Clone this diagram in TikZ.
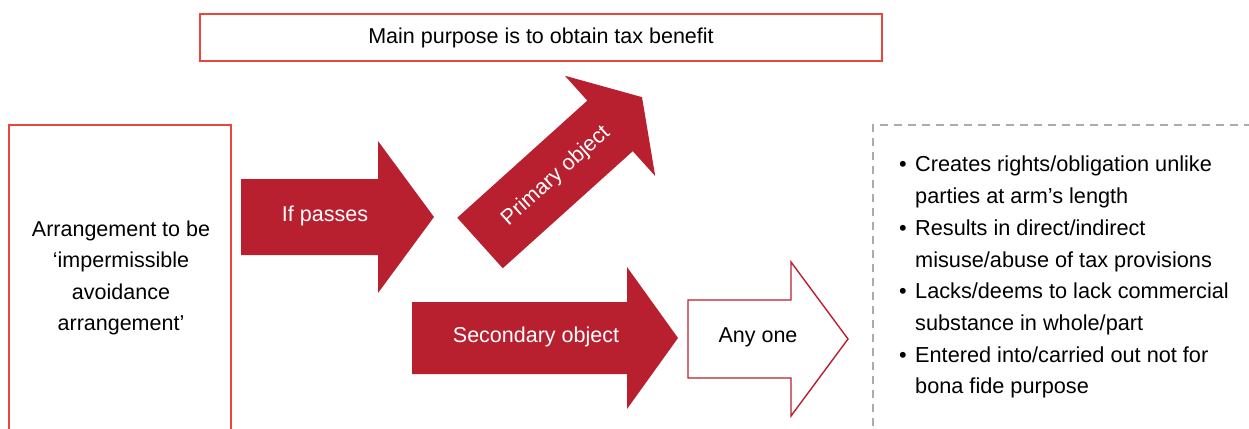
\documentclass[tikz,border=0pt]{standalone}
\usepackage{fontspec}
\setmainfont{Liberation Sans}
\usetikzlibrary{positioning}

\definecolor{arrowred}{RGB}{184,32,47}
\definecolor{boxred}{RGB}{234,70,60}
\definecolor{dashgray}{RGB}{175,170,168}

% block arrow: style, tail centre, angle, shaft length, total length, shaft half width, head half width
\newcommand{\blockarrow}[7]{%
  \begin{scope}[shift={#2},rotate=#3]
    \draw[#1] (0,-#6) -- (#4,-#6) -- (#4,-#7) -- (#5,0) -- (#4,#7) -- (#4,#6) -- (0,#6) -- cycle;
  \end{scope}}
\newcommand{\bitem}{\makebox[19pt][l]{\hspace{3pt}\textbullet}}
\newcommand{\bcont}{\hspace*{19pt}}

\begin{document}
\begin{tikzpicture}[x=1pt,y=-1pt,
  redbox/.style={draw=boxred,line width=1.6pt},
  solidarrow/.style={fill=arrowred,draw=none},
  openarrow/.style={draw=arrowred,fill=white,line width=1.4pt,line join=miter},
  dashbox/.style={draw=dashgray,line width=1.4pt,dash pattern=on 8pt off 6pt},
  lbl/.style={font=\fontsize{21.5}{31.5}\selectfont,inner sep=0pt,align=center},
  wlbl/.style={lbl,text=white}]
\clip (0,0) rectangle (1249,428);
\useasboundingbox (0,0) rectangle (1249,428);

% top box
\node[redbox,lbl,minimum width=682pt,minimum height=47pt] (purpose) at (541,37.5)
  {Main purpose is to obtain tax benefit};

% left box, open at the bottom
\draw[redbox] (9,440) |- (231,125) -- (231,440);
\node[lbl] (arrangement) at (121,278)
  {Arrangement to be\\‘impermissible\\avoidance\\arrangement’};

% arrows
\blockarrow{solidarrow}{(241,217)}{0}{137}{193}{38}{76}
\node[wlbl] (passes) at (325,216) {If passes};

\blockarrow{solidarrow}{(480,243)}{42}{175}{218}{34}{67.5}
\node[wlbl,rotate=42] (primary) at (556,176) {Primary object};

\blockarrow{solidarrow}{(412,338)}{0}{215}{266}{36}{71}
\node[wlbl] (secondary) at (536,337) {Secondary object};

\blockarrow{openarrow}{(688,339)}{0}{103}{160}{39}{77}
\node[lbl] (anyone) at (758,337) {Any one};

% conditions
\draw[dashbox] (873,440) |- (1260,125);
\node[lbl,align=left,anchor=north west,font=\fontsize{21.7}{31.7}\selectfont] (tests) at (896,156)
  {\bitem Creates rights/obligation unlike\\
   \bcont parties at arm’s length\\
   \bitem Results in direct/indirect\\
   \bcont misuse/abuse of tax provisions\\
   \bitem Lacks/deems to lack commercial\\
   \bcont substance in whole/part\\
   \bitem Entered into/carried out not for\\
   \bcont bona fide purpose};
\end{tikzpicture}
\end{document}
